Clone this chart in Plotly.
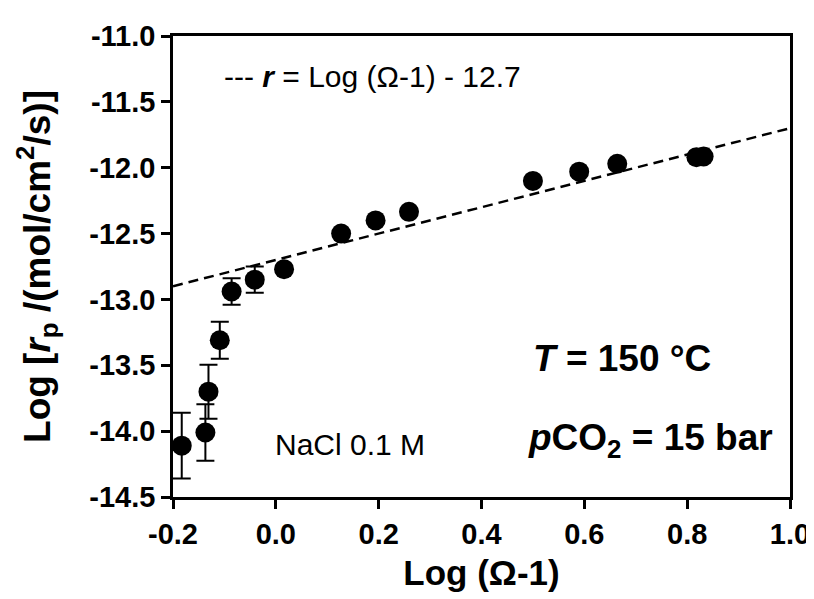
import plotly.graph_objects as go

# Data
log_omega = [-0.183, -0.137, -0.131, -0.109, -0.086, -0.041, 0.016, 0.127, 0.194,
             0.259, 0.500, 0.590, 0.664, 0.818, 0.832]
log_rate = [-14.11, -14.01, -13.70, -13.31, -12.94, -12.85, -12.77, -12.50, -12.40,
            -12.335, -12.10, -12.03, -11.97, -11.92, -11.915]
rate_err = [0.25, 0.215, 0.205, 0.14, 0.10, 0.10, 0, 0, 0, 0, 0, 0, 0, 0, 0]

fit_slope = 1.0
fit_intercept = -12.7
fit_x = [-0.2, 1.0]
fit_y = [fit_slope * v + fit_intercept for v in fit_x]

x_ticks = [-0.2, 0.0, 0.2, 0.4, 0.6, 0.8, 1.0]
y_ticks = [-11.0, -11.5, -12.0, -12.5, -13.0, -13.5, -14.0, -14.5]

FONT = "Arial, Liberation Sans, sans-serif"

fig = go.Figure()
fig.add_trace(go.Scatter(
    x=fit_x, y=fit_y, mode="lines",
    line=dict(color="black", width=2.5, dash="10px,6px"),
    showlegend=False, hoverinfo="skip"))
fig.add_trace(go.Scatter(
    x=log_omega, y=log_rate, mode="markers",
    marker=dict(color="black", size=20),
    error_y=dict(type="data", array=rate_err, visible=True,
                 color="black", thickness=2, width=9),
    showlegend=False))

axis_common = dict(showline=True, linewidth=2.5, linecolor="black", mirror=True,
                   ticks="outside", ticklen=9, tickwidth=2.5, tickcolor="black",
                   showgrid=False, zeroline=False,
                   tickfont=dict(family=FONT, size=29, color="black", weight="bold"))

fig.update_xaxes(range=[-0.2, 1.0], tickvals=x_ticks,
                 ticktext=[f"{v:.1f}" for v in x_ticks],
                 title=dict(text="<b>Log (Ω-1)</b>", font=dict(family=FONT, size=35, color="black"),
                            standoff=12),
                 **axis_common)
fig.update_yaxes(range=[-14.5, -11.0], tickvals=y_ticks,
                 ticktext=[f"{v:.1f}" for v in y_ticks],
                 title=dict(text="<b>Log [<i>r</i><sub>p</sub> /(mol/cm<sup>2</sup>/s)]</b>",
                            font=dict(family=FONT, size=37, color="black"), standoff=28),
                 **axis_common)

fig.add_annotation(x=-0.105, y=-11.31, xref="x", yref="y", xanchor="left", yanchor="middle",
                   text="--- <b><i>r</i></b> = Log (Ω-1) - 12.7", showarrow=False,
                   font=dict(family=FONT, size=30, color="black"))
fig.add_annotation(x=-0.005, y=-14.1, xref="x", yref="y", xanchor="left", yanchor="middle",
                   text="NaCl 0.1 M", showarrow=False,
                   font=dict(family=FONT, size=30, color="black"))
fig.add_annotation(x=0.496, y=-13.45, xref="x", yref="y", xanchor="left", yanchor="middle",
                   text="<b><i>T</i> = 150 °C</b>", showarrow=False,
                   font=dict(family=FONT, size=37, color="black"))
fig.add_annotation(x=0.486, y=-14.07, xref="x", yref="y", xanchor="left", yanchor="middle",
                   text="<b><i>p</i>CO<sub>2</sub> = 15 bar</b>", showarrow=False,
                   font=dict(family=FONT, size=37, color="black"))

fig.update_layout(width=814, height=599, plot_bgcolor="white", paper_bgcolor="white",
                  margin=dict(l=165, r=28, t=23, b=110),
                  font=dict(family=FONT, color="black"))

fig.write_html("out.html")
